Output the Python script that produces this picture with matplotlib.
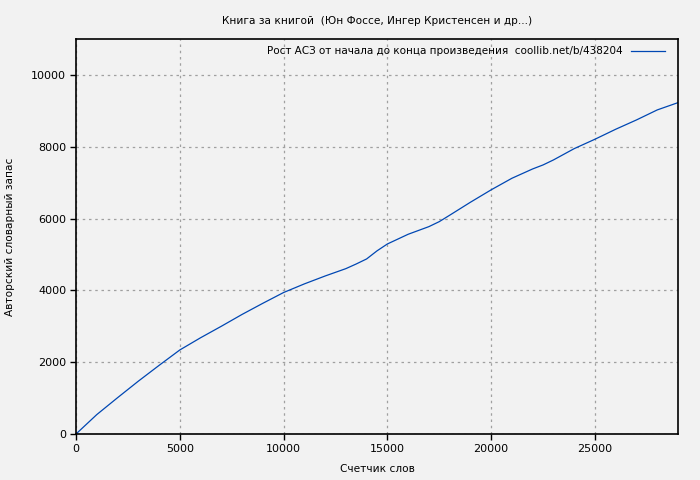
import matplotlib
matplotlib.use("Agg")
import matplotlib.pyplot as plt

words = [0, 1000, 2000, 3000, 4000, 5000, 6000, 7000, 8000, 9000, 10000,
         11000, 12000, 13000, 13500, 14000, 14500, 15000, 16000, 17000, 17500,
         18000, 19000, 20000, 21000, 22000, 22500, 23000, 24000, 25000, 26000,
         27000, 28000, 29000]
vocab = [0, 540, 1010, 1470, 1910, 2340, 2680, 3000, 3330, 3640, 3940,
         4180, 4400, 4605, 4735, 4875, 5100, 5292, 5562, 5775, 5914,
         6092, 6454, 6800, 7122, 7382, 7493, 7632, 7947, 8209, 8487,
         8746, 9025, 9228]

title = "Книга за книгой  (Юн Фоссе, Ингер Кристенсен и др...)"
legend_label = "Рост АСЗ от начала до конца произведения  coollib.net/b/438204"
xlabel = "Счетчик слов"
ylabel = "Авторский словарный запас"
xticks = [0, 5000, 10000, 15000, 20000, 25000]
yticks = [0, 2000, 4000, 6000, 8000, 10000]

bg = "#f2f2f2"
plt.rcParams["font.family"] = ["DejaVu Sans"]
fig = plt.figure(figsize=(7, 4.8), dpi=100, facecolor=bg)
ax = fig.add_axes([76/700, 1-434/480, (678-76)/700, (434-39)/480])
ax.set_facecolor(bg)

ax.plot(words, vocab, color="#0047b3", lw=0.9, label=legend_label)

ax.set_xlim(0, 29000)
ax.set_ylim(0, 11000)
ax.set_xticks(xticks)
ax.set_yticks(yticks)
ax.tick_params(direction="out", length=4, width=1, labelsize=8, color="black", pad=3)
ax.grid(True, color="#a0a0a0", linestyle=(0, (2, 3)), linewidth=0.9)
for s in ax.spines.values():
    s.set_linewidth(1.2)
    s.set_color("black")

ax.set_title(title, fontsize=7.6, pad=11)
ax.set_xlabel(xlabel, fontsize=7.6)
ax.set_ylabel(ylabel, fontsize=7.6)
ax.xaxis.set_label_coords(0.5, -30/395)
ax.yaxis.set_label_coords(-61/602, 0.5)

leg = ax.legend(loc="upper right", frameon=False, fontsize=7.5, markerfirst=False,
                handlelength=3.2, borderaxespad=0.3, handletextpad=0.8,
                bbox_to_anchor=(1 - 6/602, 1))

fig.savefig("out.png", dpi=100, facecolor=bg)
